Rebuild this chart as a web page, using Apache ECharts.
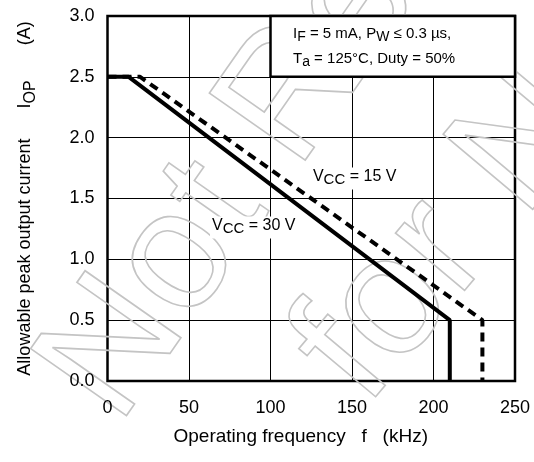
<!DOCTYPE html>
<html><head><meta charset="utf-8">
<script src="https://cdn.jsdelivr.net/npm/echarts@6/dist/echarts.min.js"></script>
<style>html,body{margin:0;padding:0;background:#fff}#c{width:534px;height:462px}</style>
</head><body><div id="c"></div>
<script>
// axis ranges / ticks
const xRange = [0, 250], xStep = 50;
const yRange = [0, 3.0], yStep = 0.5;
// series: Vcc = 30 V (solid), Vcc = 15 V (dashed)
const vcc30 = [[0, 2.5], [13, 2.5], [210, 0.5], [210, 0]];
const vcc15 = [[0, 2.5], [20, 2.5], [230, 0.5], [230, 0]];
// condition box corners
const condBox = [[100, 2.5], [250, 3.0]];
// annotation anchor points (data coords)
const lbl15 = [124.8, 1.665];
const lbl30 = [62.9, 1.262];
const condText1 = [113.8, 2.84];
const condText2 = [113.8, 2.63];
// watermark lines
const wmLines = ['Not Recommended', 'for New Design'];

const FONT = '"Liberation Sans", Arial, sans-serif';
const chart = echarts.init(document.getElementById('c'), null, {renderer: 'canvas'});

const sub = (fs) => ({fontFamily: FONT, fontSize: fs - 1, color: '#000', padding: [4, 0, 0, 0], verticalAlign: 'top', lineHeight: fs + 4});
const nrm = (fs) => ({fontFamily: FONT, fontSize: fs, color: '#000', verticalAlign: 'top', lineHeight: fs + 4});

chart.setOption({
  animation: false,
  backgroundColor: '#fff',
  grid: {left: 107.5, right: 19, top: 16, bottom: 81, show: true, borderColor: '#000', borderWidth: 2.5, backgroundColor: 'transparent'},
  xAxis: {
    type: 'value', min: xRange[0], max: xRange[1], interval: xStep,
    name: 'Operating frequency   f   (kHz)', nameLocation: 'middle', nameGap: 46,
    nameTextStyle: {fontFamily: FONT, fontSize: 19, color: '#000', padding: [0, 21, 0, 0]},
    axisLine: {show: false}, axisTick: {show: false},
    axisLabel: {fontFamily: FONT, fontSize: 18, color: '#000', margin: 18},
    splitLine: {show: true, lineStyle: {color: '#000', width: 1}}
  },
  yAxis: {
    type: 'value', min: yRange[0], max: yRange[1], interval: yStep,
    name: '{a|Allowable peak output current      I}{s|OP}{a|       (A)}', nameLocation: 'middle', nameGap: 69,
    nameTextStyle: {fontFamily: FONT, fontSize: 18, color: '#000',
      rich: {a: {fontFamily: FONT, fontSize: 18, color: '#000', verticalAlign: 'top', lineHeight: 22},
             s: {fontFamily: FONT, fontSize: 16, color: '#000', verticalAlign: 'top', lineHeight: 22, padding: [6, 0, 0, 0]}}},
    axisLine: {show: false}, axisTick: {show: false},
    axisLabel: {fontFamily: FONT, fontSize: 18, color: '#000', margin: 13, formatter: v => v.toFixed(1)},
    splitLine: {show: true, lineStyle: {color: '#000', width: 1}}
  },
  series: [
    {
      type: 'line', data: vcc15, symbol: 'none', z: 3,
      lineStyle: {color: '#000', width: 4, type: [9, 6], cap: 'butt'},
      markArea: {
        silent: true,
        itemStyle: {color: '#fff', borderColor: '#000', borderWidth: 2.5},
        data: [[{coord: condBox[0]}, {coord: condBox[1]}]]
      }
    },
    {
      type: 'line', data: vcc30, symbol: 'none', z: 4,
      lineStyle: {color: '#000', width: 4}
    }
  ]
});

const p = (c) => chart.convertToPixel({gridIndex: 0}, c);
const mk = (pt, text, fs, bg) => ({
  type: 'text', x: p(pt)[0], y: p(pt)[1], z: 10,
  style: {
    text: text, fontFamily: FONT, fontSize: fs, fill: '#000',
    verticalAlign: 'middle', align: 'left',
    backgroundColor: bg ? '#fff' : null, padding: bg ? [1, 2, 1, 2] : 0,
    rich: {n: nrm(fs), s: sub(fs)}
  }
});
const wm = (txt, x, y, deg) => ({
  type: 'text', x: x, y: y, rotation: deg * Math.PI / 180, z: 0, silent: true,
  style: {text: txt, fontFamily: FONT, fontSize: 170, fill: 'rgba(0,0,0,0)', stroke: '#c4c4c4', lineWidth: 1.6, verticalAlign: 'middle', align: 'left'}
});

chart.setOption({
  graphic: [
    wm(wmLines[0], 80, 400, 55),
    wm(wmLines[1], 330, 378, 50),
    mk(lbl15, '{n|V}{s|CC}{n| = 15 V}', 16, true),
    mk(lbl30, '{n|V}{s|CC}{n| = 30 V}', 16, true),
    mk(condText1, '{n|I}{s|F}{n| = 5 mA, P}{s|W}{n| ≤ 0.3 µs,}', 15, false),
    mk(condText2, '{n|T}{s|a}{n| = 125°C, Duty = 50%}', 15, false)
  ]
});
</script></body></html>
